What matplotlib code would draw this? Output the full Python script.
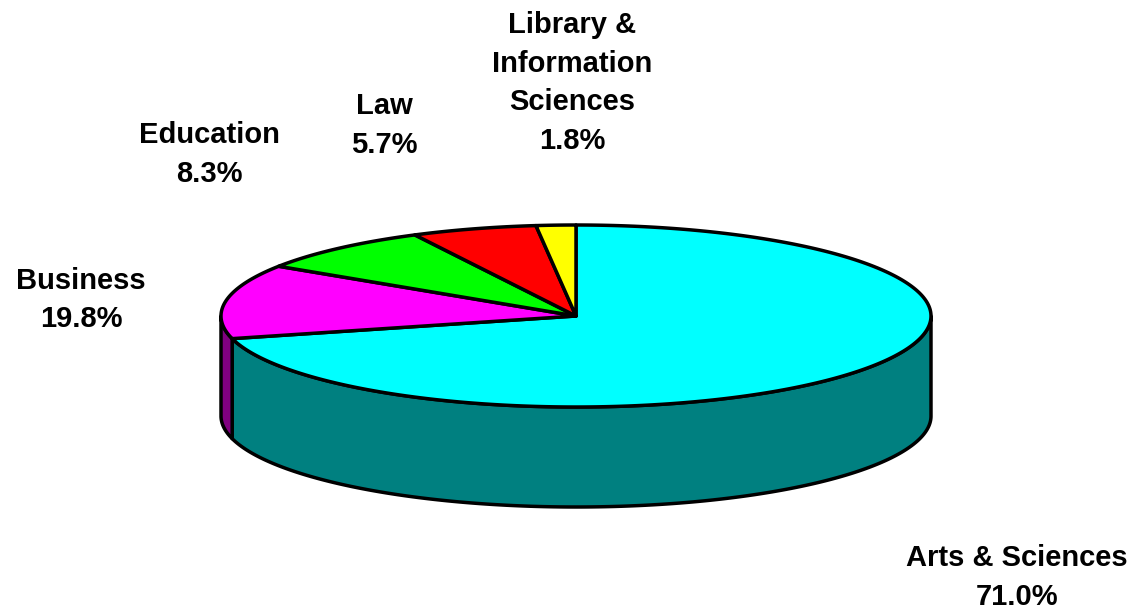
import numpy as np
import matplotlib
matplotlib.use('Agg')
import matplotlib.pyplot as plt
from matplotlib.patches import Polygon

plt.rcParams['font.family'] = ['Liberation Sans', 'DejaVu Sans']

# share of each slice, going clockwise from 12 o'clock
names = ['Arts & Sciences', 'Business', 'Education', 'Law', 'Library &\nInformation\nSciences']
shares = [71.0, 13.2, 8.3, 5.7, 1.8]
# printed percentages (Business label reads 19.8% on the original)
printed = ['71.0%', '19.8%', '8.3%', '5.7%', '1.8%']
top_colors = ['#00FFFF', '#FF00FF', '#00FF00', '#FF0000', '#FFFF00']
side_colors = ['#008080', '#800080', '#008000', '#800000', '#808000']
label_pos = [(1017, 577.5), (81, 300), (209.5, 154.5), (384, 125.5), (572, 83)]

cx, cy = 576, 316
rx, ry = 355, 91
depth = 100

fig = plt.figure(figsize=(11.36, 6.10), dpi=100)
ax = fig.add_axes([0, 0, 1, 1])
ax.set_xlim(0, 1136)
ax.set_ylim(610, 0)
ax.axis('off')


def rim(a0, a1):
    # angles measured clockwise from the top, degrees
    t = np.radians(np.linspace(a0, a1, 300))
    return cx + rx * np.sin(t), cy - ry * np.cos(t)


edges = np.concatenate([[0], np.cumsum(shares)]) / sum(shares) * 360

# side walls first: only the front half of the rim shows
for i in range(len(shares)):
    a0 = max(edges[i], 90)
    a1 = min(edges[i + 1], 270)
    if a1 <= a0:
        continue
    x, y = rim(a0, a1)
    pts = np.r_[np.c_[x, y], np.c_[x[::-1], y[::-1] + depth]]
    ax.add_patch(Polygon(pts, closed=True, fc=side_colors[i], ec='black', lw=2.5, joinstyle='round'))

# top faces
for i in range(len(shares)):
    x, y = rim(edges[i], edges[i + 1])
    pts = np.r_[[[cx, cy]], np.c_[x, y]]
    ax.add_patch(Polygon(pts, closed=True, fc=top_colors[i], ec='black', lw=2.5, joinstyle='round'))

for name, pct, (lx, ly) in zip(names, printed, label_pos):
    ax.text(lx, ly, name + '\n' + pct, ha='center', va='center', fontsize=21,
            fontweight='bold', color='black', linespacing=1.49)

fig.savefig('out.png', dpi=100, facecolor='white')
